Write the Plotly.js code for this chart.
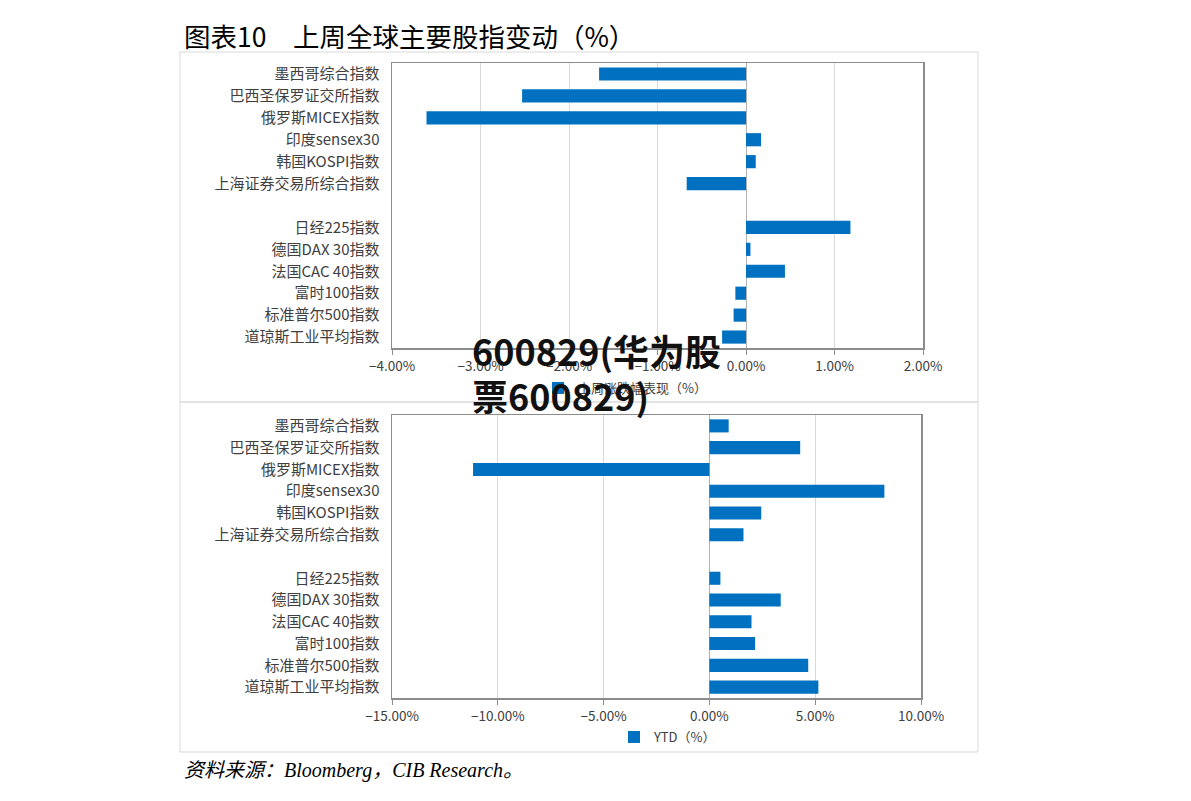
<!DOCTYPE html>
<html>
<head>
<meta charset="utf-8">
<script src="https://cdn.plot.ly/plotly-3.0.1.min.js"></script>
<style>html,body{margin:0;padding:0;background:#fff;}#chart{width:1191px;height:801px;}</style>
</head>
<body>
<div id="chart"></div>
<script>
// Categories (top to bottom); " " is the empty spacer row
const categories = ["墨西哥综合指数","巴西圣保罗证交所指数","俄罗斯MICEX指数","印度sensex30","韩国KOSPI指数","上海证券交易所综合指数"," ","日经225指数","德国DAX 30指数","法国CAC 40指数","富时100指数","标准普尔500指数","道琼斯工业平均指数"];
const barCategories = ["墨西哥综合指数","巴西圣保罗证交所指数","俄罗斯MICEX指数","印度sensex30","韩国KOSPI指数","上海证券交易所综合指数","日经225指数","德国DAX 30指数","法国CAC 40指数","富时100指数","标准普尔500指数","道琼斯工业平均指数"];
// Weekly change (%)
const weeklyValues = [-1.66,-2.53,-3.61,0.17,0.11,-0.67,1.18,0.05,0.44,-0.12,-0.14,-0.27];
// YTD change (%)
const ytdValues = [0.91,4.29,-11.17,8.27,2.45,1.61,0.52,3.37,1.99,2.16,4.67,5.15];
const weeklyName = "上周涨跌幅表现（%）";
const ytdName = "YTD（%）";

const W = 1191, H = 801;
const px = v => v / W, py = v => 1 - v / H;
const barColor = "#0070C0";
const labelFont = {family: "Noto Sans CJK SC", size: 15, color: "#404040"};
const tickFont = {family: "Noto Sans CJK SC", size: 13.5, color: "#404040"};
const legendFont = {family: "Noto Sans CJK SC", size: 13, color: "#404040"};

const traces = [
  {type: "bar", orientation: "h", x: weeklyValues, y: barCategories, name: weeklyName,
   marker: {color: barColor}, xaxis: "x", yaxis: "y", legend: "legend", showlegend: true},
  {type: "bar", orientation: "h", x: ytdValues, y: barCategories, name: ytdName,
   marker: {color: barColor}, xaxis: "x2", yaxis: "y2", legend: "legend2", showlegend: true}
];

const xCommon = {
  showgrid: true, gridcolor: "#d9d9d9", gridwidth: 1,
  zeroline: true, zerolinecolor: "#b0b0b0", zerolinewidth: 1,
  showline: true, linecolor: "#8c8c8c", linewidth: 1.5, mirror: true,
  ticks: "outside", ticklen: 5, tickcolor: "#8c8c8c",
  tickformat: ".2f", ticksuffix: "%", tickfont: tickFont, fixedrange: true
};
const yCommon = {
  type: "category", categoryorder: "array", categoryarray: categories,
  autorange: "reversed", showgrid: false, zeroline: false,
  showline: true, linecolor: "#8c8c8c", linewidth: 1.5, mirror: true,
  ticks: "", tickfont: labelFont, ticklabelstandoff: 8, fixedrange: true
};

const layout = {
  width: W, height: H,
  margin: {l: 0, r: 0, t: 0, b: 0},
  paper_bgcolor: "#fff", plot_bgcolor: "#fff",
  bargap: 0.4,
  showlegend: true,
  xaxis: Object.assign({}, xCommon, {domain: [px(392), px(923)], anchor: "y", range: [-4, 2], dtick: 1, tick0: 0}),
  yaxis: Object.assign({}, yCommon, {domain: [py(348), py(63)], anchor: "x"}),
  xaxis2: Object.assign({}, xCommon, {domain: [px(392), px(921)], anchor: "y2", range: [-15, 10], dtick: 5, tick0: 0}),
  yaxis2: Object.assign({}, yCommon, {domain: [py(698), py(415)], anchor: "x2"}),
  legend: {x: px(625), y: py(388), xanchor: "center", yanchor: "middle", orientation: "h",
           font: legendFont, bgcolor: "rgba(0,0,0,0)", itemwidth: 30},
  legend2: {x: px(668), y: py(737), xanchor: "center", yanchor: "middle", orientation: "h",
           font: legendFont, bgcolor: "rgba(0,0,0,0)", itemwidth: 30},
  shapes: [
    {type: "rect", xref: "paper", yref: "paper", x0: px(180), x1: px(978), y0: py(402), y1: py(52),
     line: {color: "#d9d9d9", width: 1}, layer: "below"},
    {type: "rect", xref: "paper", yref: "paper", x0: px(180), x1: px(978), y0: py(752), y1: py(402),
     line: {color: "#d9d9d9", width: 1}, layer: "below"}
  ],
  annotations: [
    {xref: "paper", yref: "paper", x: px(182), y: py(35), xanchor: "left", yanchor: "middle",
     text: "图表10　上周全球主要股指变动（%）", showarrow: false,
     font: {family: "Noto Sans CJK SC", size: 26.5, color: "#000"}},
    {xref: "paper", yref: "paper", x: px(182), y: py(770), xanchor: "left", yanchor: "middle",
     text: "<i>资料来源：Bloomberg，CIB Research。</i>", showarrow: false,
     font: {family: "Liberation Serif, Noto Sans CJK SC", size: 20, color: "#000"}},
    {xref: "paper", yref: "paper", x: px(470), y: py(350), xanchor: "left", yanchor: "middle",
     text: "<b>600829(华为股</b>", showarrow: false,
     font: {family: "Noto Sans CJK SC", size: 36, color: "#111"}},
    {xref: "paper", yref: "paper", x: px(470), y: py(395), xanchor: "left", yanchor: "middle",
     text: "<b>票600829)</b>", showarrow: false,
     font: {family: "Noto Sans CJK SC", size: 36, color: "#111"}}
  ]
};

Plotly.newPlot("chart", traces, layout, {displayModeBar: false, staticPlot: true});
</script>
</body>
</html>
